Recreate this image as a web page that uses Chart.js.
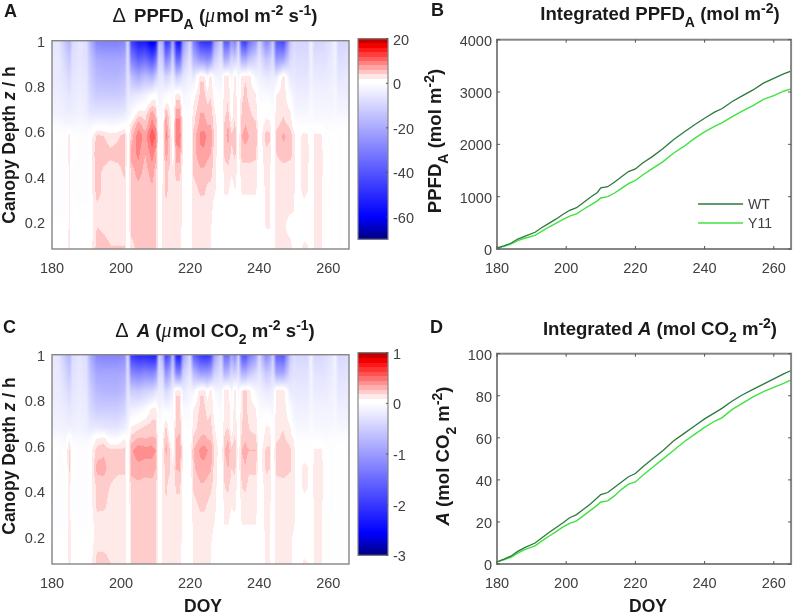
<!DOCTYPE html>
<html><head><meta charset="utf-8">
<script src="https://cdn.jsdelivr.net/npm/chart.js@4"></script>
<style>
html,body{margin:0;padding:0;background:#fff;width:797px;height:614px;overflow:hidden}
#page{position:relative;width:797px;height:614px;font-family:"Liberation Sans",Arial,sans-serif;color:#1a1a1a;filter:blur(.35px)}
canvas{position:absolute}
.t{position:absolute;white-space:nowrap;font-weight:bold;font-size:17.5px;line-height:1}
.h{font-size:18.6px}
.r{transform:translate(-50%,-50%) rotate(-90deg)}
.c{transform:translateX(-50%)}
.t sub,.t sup{font-size:14px;line-height:0;position:relative;vertical-align:baseline}
.t sub{top:7px}.t sup{top:-7px}
.n{font-weight:normal;font-size:20px;margin-right:3px}
.s{font-family:"Liberation Serif",serif;font-style:italic;font-weight:normal;font-size:20px;margin-right:1px}
</style></head><body><div id="page">
<div class="t" style="left:4px;top:2px;font-size:18px">A</div>
<div class="t" style="left:431px;top:1px;font-size:18px">B</div>
<div class="t" style="left:3px;top:318px;font-size:18px">C</div>
<div class="t" style="left:430px;top:318px;font-size:18px">D</div>
<div class="t h c" style="left:215px;top:5px"><span class="n">Δ</span> PPFD<sub>A</sub> (<span class="s">μ</span>mol m<sup>-2</sup> s<sup>-1</sup>)</div>
<div class="t h c" style="left:660px;top:5px">Integrated PPFD<sub>A</sub> (mol m<sup>-2</sup>)</div>
<div class="t h c" style="left:215px;top:320px"><span class="n">Δ</span> <i>A</i> (<span class="s">μ</span>mol CO<sub>2</sub> m<sup>-2</sup> s<sup>-1</sup>)</div>
<div class="t h c" style="left:660px;top:320px">Integrated <i>A</i> (mol CO<sub>2</sub> m<sup>-2</sup>)</div>
<div class="t r" style="left:10px;top:145px">Canopy Depth <i>z</i> / h</div>
<div class="t r" style="left:10px;top:456px">Canopy Depth <i>z</i> / h</div>
<div class="t h r" style="left:435px;top:141px">PPFD<sub>A</sub> (mol m<sup>-2</sup>)</div>
<div class="t h r" style="left:443px;top:456px"><i>A</i> (mol CO<sub>2</sub> m<sup>-2</sup>)</div>
<div class="t c" style="left:203px;top:598px">DOY</div>
<div class="t c" style="left:648px;top:598px">DOY</div>
</div>
<script>
const doyTicks=[180,200,220,240,260];
const depthTicks=[1,.8,.6,.4,.2];
const ppfdColorTicks=[20,0,-20,-40,-60];
const assimColorTicks=[1,0,-1,-2,-3];
const ppfdTicks=[0,1000,2000,3000,4000];
const assimTicks=[0,20,40,60,80,100];

const depthRows=[1,.92,.84,.76,.68,.63,.58,.5,.42,.34,.26,.18,.08];
const doyColumns=[180,181,182,184,185,186,188,190,191,193,195,197,199,201,202,203,205,207,209,210,211,212,213,214,215,216,217,218,220,221,223,224,225,226,227,229,230,231,232,233,234,235,236,237,239,240,242,243,244,245,247,249,250,251,253,254,255,256,258,259,261,262,263,266];

const deltaPPFD=[
[-6,-5,-5,-4,-3,-.5,3,3,1,0,0,1,3],
[-6,-5,-5,-4,-3,-1,0,0,-.5,-.5,-.5,0,0],
[-6,-5,-5,-4,-3,-1,-.3,-.5,-.5,-.5,-.5,0,0],
[-14,-10,-7,-5,-4,-2,0,-.5,-.5,-.5,-.5,0,0],
[-18,-13,-9,-6,-4,-2,3,3,2.5,2.5,2.5,2.5,3],
[-9,-7,-6,-5,-4,-2,0,0,-.5,-.5,0,0,0],
[-6,-6,-5,-4,-3,-1.5,-.5,-.5,-.5,-.5,-.3,0,0],
[-8,-7,-6,-5,-4,-2,-.5,-.5,-.5,-.5,-.3,0,0],
[-17,-13,-11,-9,-6,-2,.5,.5,.5,.5,.5,.5,.5],
[-29,-20,-16,-12,-6,-1,4.5,6,5,5,3.5,4,5],
[-30,-21,-17,-12,-6,-1,4,5,3.5,3.5,3,3.5,5],
[-30,-21,-17,-12,-6,-1.5,3,4.5,3,3,3,3,4.2],
[-30,-21,-17,-12,-6,-1,3.5,5,3,3,3,3,4.2],
[-28,-20,-15,-11,-5,0,5,5,4.5,3,3,3,4.2],
[-8,-7,-6,-5,-3,0,0,0,0,0,0,0,0],
[-45,-30,-15,-6,-1,3,5,7,5,5,5,5,3],
[-55,-38,-20,-5,3,7,9.5,8.5,7,5,5,5,5],
[-55,-35,-15,-3,3,4.5,7,6,5,5,5,4.5,5],
[-65,-42,-18,0,7,9,12,9,7,5.5,5,5,6],
[-60,-35,-12,1,5,7,10,7,5,5,5,5,5],
[-15,-10,-6,-3,-1,0,0,0,0,0,0,0,0],
[-20,-12,-6,-2,-1,0,1,1,1,2.5,2.5,2.5,2.5],
[-50,-30,-10,-1,6,8,9,7,5,5,3,3,3],
[-45,-25,-8,0,3,3.5,5,5,3.5,3,3,3,3],
[-20,-10,-4,-1,-.5,0,0,.5,2.5,2.5,2.5,2.5,2.5],
[-55,-35,-12,3,7,9,9,7,5,3,3,3,3],
[-60,-35,-10,3,7,9,10,7,5,3,3,3,3],
[-25,-15,-6,-2,0,1,1,1,1,1,1,1,0],
[-10,-6,-3,-1,-.5,0,0,0,0,0,0,0,0],
[-30,-18,-5,1,3,3.5,5,5,4.5,3,3,3,3],
[-48,-25,3.8,4.5,6,7,8.5,7.5,5.5,4.5,3,3,3],
[-50,-26,3.8,4.5,6,7,9,7.5,5.5,4.5,3,3,3],
[-50,-28,-1,3,5,6,7.5,6.5,5,3.5,3,3,3],
[-50,-25,3.8,3.8,5,6,7.5,6,5,3,3,2.2,2.2],
[-25,-12,-2,1,2.5,3,3.5,3,2.5,2.5,1,.5,0],
[-10,-6,-3,-1,-.5,0,0,0,0,0,0,0,0],
[-40,-20,3.5,3.5,3.5,4.5,5,4.5,3,2.5,.5,0,0],
[-40,-18,3.8,3.8,4.5,6,7,5,3.5,2.5,.5,0,0],
[-25,-10,-2,0,.5,2.5,4.5,3.5,2.5,.5,.5,0,0],
[-30,-12,3.8,3.8,3.8,4.5,5,4.5,3,2.2,.5,0,0],
[-12,-6,-2,-.5,0,0,.5,1,1,0,0,0,0],
[-45,-20,3.5,3.5,4.5,5,6,5,3,2.5,.5,0,0],
[-48,-20,3.8,4.5,5,6,7,5,3,2.5,.5,0,0],
[-35,-15,3.5,3.5,4.5,5,6,5,3,2.5,.5,0,0],
[-25,-10,-2,2.5,3,4.5,6,4.5,3,2.5,.5,0,0],
[-10,-6,-3,-1,0,0,0,0,0,0,0,0,0],
[-30,-14,-5,-1,1,3,5,3.5,3,2.5,2.5,2.2,0],
[-25,-12,-5,-1.5,1,2.5,4.5,3,2.5,2.5,2.2,2.2,0],
[-12,-8,-4,-2,-.5,0,0,0,0,0,0,0,0],
[-40,-25,-4,2,3,3.5,4.5,4,3,3,3,3,3],
[-45,-22,3.8,3.8,3.8,4.5,6.5,5,3,3,2.5,2.5,2.5],
[-14,-9,-5,-1,2.5,3.5,5,4.5,3,3,2.5,1,3],
[-9,-7,-5,-3,-1,.5,3,3.5,3,2.5,2.2,1,1],
[-10,-8,-6,-4,-2,0,.5,.5,.5,.5,0,0,0],
[-10,-8,-6,-4,-2,-.5,3,3,3,3,1,0,3],
[-10,-8,-6,-4,-2,-.5,2.5,3,2.5,2.2,0,0,2.5],
[-3,-3,-3,-2,-1,-.5,0,0,0,0,0,0,0],
[-10,-7,-5,-3,-2,-.5,2.5,2.5,2.5,2.5,2.5,2.5,2.5],
[-10,-7,-5,-3,-2,-.5,2.5,3,3,2.5,2.5,2.5,3],
[-9,-7,-5,-3,-2,-1,0,.2,.2,0,0,0,0],
[-6,-5,-4,-3,-2,-.5,-.3,-.3,-.3,-.3,-.2,-.2,-.2],
[-3,-3,-3,-2,-1.5,-.5,0,0,0,0,0,0,0],
[-10,-8,-6,-4,-2,-.5,-.2,-.2,-.2,-.2,-.2,-.2,-.2],
[-9,-7,-5,-4,-2,-.5,0,0,0,0,0,0,0]
];

const deltaAssim=[
[-.25,-.22,-.2,-.17,-.12,-.03,.13,.13,.13,.1,.1,.1,.13],
[-.25,-.22,-.2,-.17,-.12,-.04,0,0,-.02,-.02,-.02,0,0],
[-.25,-.22,-.2,-.17,-.12,-.04,-.02,-.02,-.02,-.02,-.02,0,0],
[-.6,-.42,-.3,-.2,-.15,-.08,0,-.02,-.02,-.02,-.02,0,0],
[-.75,-.55,-.38,-.25,-.16,.1,.2,.2,.14,.14,.14,.14,.16],
[-.35,-.3,-.25,-.2,-.15,-.06,0,0,-.02,-.02,0,0,0],
[-.25,-.24,-.2,-.17,-.13,-.06,-.02,-.02,-.02,-.02,-.02,0,0],
[-.35,-.3,-.25,-.2,-.16,-.08,-.02,-.02,-.02,-.02,-.02,0,0],
[-.8,-.6,-.48,-.38,-.22,-.05,.03,.03,.03,.03,.03,.03,.03],
[-1.2,-.9,-.7,-.5,-.22,.1,.22,.3,.2,.2,.14,.14,.22],
[-1.25,-.9,-.75,-.5,-.24,.13,.25,.3,.22,.2,.13,.14,.22],
[-1.25,-.9,-.75,-.5,-.26,-.02,.2,.22,.17,.14,.13,.13,.18],
[-1.25,-.9,-.75,-.5,-.26,-.02,.2,.2,.14,.13,.13,.13,.16],
[-1.15,-.85,-.65,-.42,-.18,.1,.2,.2,.14,.14,.13,.13,.16],
[-.35,-.3,-.25,-.2,-.1,0,0,0,0,0,0,0,0],
[-2,-1.2,-.5,-.15,.1,.22,.34,.3,.22,.2,.2,.2,.18],
[-2.2,-1.3,-.55,-.1,.15,.28,.42,.32,.24,.22,.2,.2,.2],
[-2.2,-1.2,-.45,-.03,.2,.27,.4,.3,.23,.2,.2,.2,.2],
[-2.3,-1.25,-.4,.12,.22,.28,.4,.3,.24,.2,.2,.2,.22],
[-2.3,-1.1,-.3,.15,.2,.27,.36,.27,.22,.2,.2,.2,.2],
[-.5,-.35,-.2,-.1,-.03,0,0,0,0,0,0,0,0],
[-.8,-.4,-.2,-.05,.02,.05,.1,.1,.11,.12,.12,.12,.12],
[-2,-1.1,-.4,-.05,.2,.28,.3,.22,.2,.17,.14,.14,.14],
[-1.7,-.9,-.3,-.05,.03,.1,.2,.2,.14,.14,.14,.14,.13],
[-.7,-.4,-.15,-.05,-.02,0,.02,.1,.11,.11,.11,.11,.11],
[-2.2,-1.2,.17,.2,.24,.27,.3,.27,.2,.14,.14,.14,.14],
[-2.4,-1.25,.17,.2,.25,.28,.36,.28,.2,.14,.14,.14,.13],
[-1,-.5,-.2,-.05,0,.03,.04,.04,.04,.04,.04,.04,0],
[-.4,-.25,-.1,-.04,-.02,0,0,0,0,0,0,0,0],
[-1.6,-.7,-.1,.1,.14,.2,.27,.25,.2,.14,.13,.13,.13],
[-2,-1,.17,.2,.22,.28,.38,.32,.25,.2,.14,.14,.13],
[-2.1,-1,.17,.2,.22,.3,.4,.32,.25,.2,.14,.14,.13],
[-2.1,-1,.02,.15,.2,.27,.36,.3,.23,.17,.14,.13,.13],
[-1.9,-.9,.17,.17,.2,.25,.34,.28,.2,.14,.13,.1,.1],
[-1,-.5,-.05,.05,.1,.13,.18,.14,.13,.12,.09,.04,0],
[-.45,-.3,-.12,-.05,-.02,0,0,0,0,0,0,0,0],
[-1.5,-.75,.15,.15,.15,.2,.27,.22,.18,.12,.1,0,0],
[-1.5,-.7,.17,.17,.18,.27,.32,.27,.2,.14,.1,0,0],
[-.9,-.4,-.08,0,.03,.11,.2,.18,.13,.1,.04,0,0],
[-1.2,-.5,.16,.16,.16,.2,.26,.2,.14,.12,.05,0,0],
[-.5,-.3,-.08,-.02,0,0,.03,.03,.03,0,0,0,0],
[-1.7,-.8,.16,.16,.18,.22,.27,.24,.18,.13,.1,0,0],
[-1.8,-.8,.2,.2,.22,.26,.3,.26,.2,.13,.1,0,0],
[-1.4,-.6,.15,.15,.18,.2,.27,.2,.14,.13,.1,0,0],
[-1,-.4,-.08,.1,.14,.2,.27,.2,.14,.13,.1,0,0],
[-.4,-.25,-.12,-.04,0,0,0,0,0,0,0,0,0],
[-1.2,-.55,-.2,-.05,.1,.13,.2,.2,.13,.12,.12,.11,.11],
[-1,-.5,-.2,-.06,.1,.14,.2,.18,.13,.12,.12,.11,.11],
[-.5,-.3,-.15,-.08,-.02,0,0,0,0,0,0,0,0],
[-1.6,-.9,.15,.15,.15,.16,.22,.2,.14,.13,.13,.13,.13],
[-1.7,-.9,.17,.17,.17,.2,.26,.22,.14,.13,.13,.13,.13],
[-.55,-.35,-.2,-.03,.1,.13,.2,.19,.13,.13,.13,.12,.12],
[-.35,-.3,-.2,-.12,-.05,.09,.13,.14,.13,.13,.12,.05,.05],
[-.4,-.3,-.22,-.15,-.08,-.02,0,0,0,0,0,0,0],
[-.4,-.3,-.22,-.15,-.08,-.02,0,.13,.13,.02,0,0,.12],
[-.4,-.3,-.22,-.15,-.08,-.02,0,.1,.1,0,0,0,.1],
[-.12,-.1,-.1,-.08,-.04,-.02,0,0,0,0,0,0,0],
[-.4,-.28,-.2,-.12,-.08,-.02,.1,.13,.13,.12,.12,.12,.12],
[-.4,-.28,-.2,-.12,-.08,-.02,.11,.14,.13,.13,.12,.12,.13],
[-.35,-.28,-.2,-.12,-.08,-.04,0,.02,.02,0,0,0,0],
[-.25,-.2,-.16,-.12,-.08,-.02,-.02,-.02,-.02,-.02,-.01,-.01,-.01],
[-.12,-.12,-.12,-.08,-.06,-.02,0,0,0,0,0,0,0],
[-.4,-.3,-.24,-.16,-.08,-.02,-.01,-.01,-.01,-.01,-.01,-.01,-.01],
[-.35,-.28,-.2,-.16,-.08,-.02,0,0,0,0,0,0,0]
];

const lineDays=[180,182,184,186,188,191,193,195,197,199,201,203,205,207,209,210,212,214,216,218,220,222,225,228,231,234,237,240,243,245,248,251,254,257,260,263,265];
const ppfdWT=[20,60,110,190,240,320,410,490,570,660,740,790,890,990,1080,1170,1190,1280,1380,1480,1530,1640,1770,1920,2090,2230,2370,2500,2620,2680,2820,2930,3040,3170,3260,3350,3400];
const ppfdY11=[15,50,95,160,205,260,340,420,490,560,630,670,760,840,920,975,1000,1070,1160,1250,1310,1410,1540,1670,1830,1960,2110,2240,2350,2410,2530,2640,2740,2860,2930,3020,3060];
const assimWT=[1,2.3,3.7,6,7.8,10,12.5,15,17.2,19.5,22,23.5,26,28.5,31.5,33,34,36.5,39,41.5,43,46,50,54,58.5,62,65.5,69,72,74,77.5,80.5,83,85.5,88,90.5,92];
const assimY11=[1,2,3.2,5.2,6.8,8.6,11,13.2,15.3,17.5,19.3,20.5,23,25.5,28,29.5,30,32.5,35.5,38,39,42,46,50,54,58,61.5,65,68,69.5,73.5,76.5,79.5,82,84,86,87.5];
const seriesNames=['WT','Y11'];
const seriesColors=['#2b7a3e','#3fe23f'];

const FRAME='#858585',TICKTXT='#404040',TFONT={family:'"Liberation Sans",Arial,sans-serif',size:14.5};
const page=document.getElementById('page');

function palette(min,blueAt,redAt,max){
  const step=(max-min)/45;
  return v=>{
    if(v>=step){
      const q=(Math.floor(v/step)-.3)*step;
      if(q<=redAt){const c=255*(1-q/redAt);return [255,c,c];}
      return [255-127*Math.min(1,(q-redAt)/(max-redAt)),0,0];
    }
    if(v>=0) return [255,255,255];
    if(v>=blueAt){const c=255*(1-v/blueAt);return [c,c,255];}
    return [0,0,255-127*Math.min(1,(v-blueAt)/(min-blueAt))];
  };
}
const ppfdPal=palette(-70,-60,15,20), assimPal=palette(-3,-2.57,.75,1);

function place(a,ml,mr,mt,mb){
  const c=document.createElement('canvas');
  const w=ml+(a.r-a.l)+mr,h=mt+(a.b-a.t)+mb;
  c.width=w;c.height=h;c.style.left=(a.l-ml)+'px';c.style.top=(a.t-mt)+'px';
  c.style.width=w+'px';c.style.height=h+'px';
  page.appendChild(c);return c;
}
const framePlugin=(ticksIn)=>({id:'frame',afterDatasetsDraw(ch){
  const {ctx,chartArea:A,scales}=ch;ctx.save();
  ctx.strokeStyle=FRAME;ctx.lineWidth=ticksIn.lw;
  ctx.strokeRect(A.left,A.top,A.right-A.left,A.bottom-A.top);
  ctx.lineWidth=1;ctx.strokeStyle='#555';ctx.beginPath();
  if(scales.x&&ticksIn.x) scales.x.ticks.forEach(t=>{const p=scales.x.getPixelForValue(t.value);
    ctx.moveTo(p,A.bottom);ctx.lineTo(p,A.bottom-3);ctx.moveTo(p,A.top);ctx.lineTo(p,A.top+3);});
  if(ticksIn.y) scales.y.ticks.forEach(t=>{const p=scales.y.getPixelForValue(t.value);
    ctx.moveTo(A.left,p);ctx.lineTo(A.left+3,p);ctx.moveTo(A.right,p);ctx.lineTo(A.right-3,p);});
  if(ticksIn.bar) scales.y.ticks.forEach(t=>{const p=scales.y.getPixelForValue(t.value);
    ctx.moveTo(A.right,p);ctx.lineTo(A.right-2,p);});
  ctx.stroke();ctx.restore();
}});
function axes(ml,mb,xMax,xT,yMin,yMax,yT,yOff,yPad){
  return {
    x:{type:'linear',min:180,max:xMax,grid:{display:false,drawTicks:false},border:{display:false},
       afterBuildTicks:s=>{s.ticks=xT.map(value=>({value}));},
       afterFit:s=>{s.height=mb;},
       ticks:{color:TICKTXT,font:TFONT,padding:11,maxRotation:0,autoSkip:false,callback:v=>String(v)}},
    y:{type:'linear',min:yMin,max:yMax,grid:{display:false,drawTicks:false},border:{display:false},
       afterBuildTicks:s=>{s.ticks=yT.map(value=>({value}));},
       afterFit:s=>{s.width=ml;},
       ticks:{color:TICKTXT,font:TFONT,padding:yPad,labelOffset:yOff,autoSkip:false,callback:v=>String(v)}}
  };
}
function heatChart(a,values,pal){
  const data=doyColumns.flatMap((d,i)=>depthRows.map((z,j)=>({x:d,y:z,v:values[i][j]})));
  const heat={id:'heat',beforeDatasetsDraw(ch){
    const {ctx,chartArea:A,scales:{x,y}}=ch,P=4;
    const w=Math.round(A.right-A.left)+2*P,h=Math.round(A.bottom-A.top)+2*P;
    const off=document.createElement('canvas');off.width=w;off.height=h;
    const oc=off.getContext('2d'),img=oc.createImageData(w,h);
    for(let py=0;py<h;py++){
      const z=Math.min(1,Math.max(.08,y.getValueForPixel(A.top-P+py+.5)));
      let j=0;while(j<depthRows.length-2&&z<depthRows[j+1])j++;
      const tz=(depthRows[j]-z)/(depthRows[j]-depthRows[j+1]);
      for(let px=0;px<w;px++){
        const d=Math.min(266,Math.max(180,x.getValueForPixel(A.left-P+px+.5)));
        let i=0;while(i<doyColumns.length-2&&d>doyColumns[i+1])i++;
        const td=(d-doyColumns[i])/(doyColumns[i+1]-doyColumns[i]);
        const v=(1-td)*((1-tz)*values[i][j]+tz*values[i][j+1])+td*((1-tz)*values[i+1][j]+tz*values[i+1][j+1]);
        const c=pal(v),k=4*(py*w+px);
        img.data[k]=c[0];img.data[k+1]=c[1];img.data[k+2]=c[2];img.data[k+3]=255;
      }
    }
    oc.putImageData(img,0,0);
    ctx.save();ctx.beginPath();ctx.rect(A.left,A.top,A.right-A.left,A.bottom-A.top);ctx.clip();
    ctx.filter='blur(0.5px)';ctx.drawImage(off,A.left-P,A.top-P);ctx.restore();
  }};
  new Chart(place(a,a.l,4,12,34),{type:'scatter',
    data:{datasets:[{label:'delta',data,pointRadius:0,showLine:false}]},
    options:{responsive:false,animation:false,events:[],layout:{padding:{top:12,right:4}},
      plugins:{legend:{display:false},tooltip:{enabled:false}},
      scales:axes(a.l,34,266,doyTicks,.08,1,depthTicks,2,7)},
    plugins:[heat,framePlugin({lw:1.4,x:false,y:false})]});
}
function colorBar(a,min,max,ticks,pal){
  const bar={id:'bar',beforeDatasetsDraw(ch){
    const {ctx,chartArea:A,scales:{y}}=ch;
    for(let p=Math.floor(A.top);p<A.bottom;p++){
      const c=pal(y.getValueForPixel(p+.5));
      ctx.fillStyle=`rgb(${c[0]|0},${c[1]|0},${c[2]|0})`;ctx.fillRect(A.left,p,A.right-A.left,1);
    }
  }};
  new Chart(place(a,1,30,12,4),{type:'scatter',
    data:{datasets:[{label:'scale',data:ticks.map(v=>({x:0,y:v})),pointRadius:0}]},
    options:{responsive:false,animation:false,events:[],layout:{padding:{top:12,bottom:4,left:1}},
      plugins:{legend:{display:false},tooltip:{enabled:false}},
      scales:{x:{display:false,min:0,max:1},
        y:{position:'right',min,max,grid:{display:false,drawTicks:false},border:{display:false},
          afterBuildTicks:s=>{s.ticks=ticks.map(value=>({value}));},
          afterFit:s=>{s.width=30;},
          ticks:{color:TICKTXT,font:TFONT,padding:5,labelOffset:2,autoSkip:false,callback:v=>String(v)}}}},
    plugins:[bar,framePlugin({lw:1.2,x:false,y:false,bar:true})]});
}
function lineChart(a,wt,y11,yMax,yT,legend){
  const pts=s=>lineDays.map((d,i)=>({x:d,y:s[i]}));
  const lg={id:'lg',afterDatasetsDraw(ch){
    if(!legend)return;
    const {ctx,chartArea:A}=ch;ctx.save();
    ch.data.datasets.forEach((ds,i)=>{
      const yy=A.bottom-45+i*19;
      ctx.strokeStyle=ds.borderColor;ctx.lineWidth=1.4;ctx.beginPath();ctx.moveTo(A.right-93,yy);ctx.lineTo(A.right-48,yy);ctx.stroke();
      ctx.fillStyle=TICKTXT;ctx.font='14px "Liberation Sans",Arial,sans-serif';ctx.textBaseline='middle';ctx.fillText(ds.label,A.right-43,yy+1);
    });ctx.restore();
  }};
  new Chart(place(a,50,2,12,34),{type:'scatter',
    data:{datasets:[
      {label:seriesNames[0],data:pts(wt),showLine:true,borderColor:seriesColors[0],borderWidth:1.3,pointRadius:0,tension:0},
      {label:seriesNames[1],data:pts(y11),showLine:true,borderColor:seriesColors[1],borderWidth:1.4,pointRadius:0,tension:0}]},
    options:{responsive:false,animation:false,events:[],layout:{padding:{top:12,right:2}},
      plugins:{legend:{display:false},tooltip:{enabled:false}},
      scales:axes(50,34,265,doyTicks,0,yMax,yT,2,5)},
    plugins:[framePlugin({lw:2,x:true,y:true}),lg]});
}
heatChart({l:52,t:37,r:349,b:249},deltaPPFD,ppfdPal);
colorBar({l:358,t:37,r:388,b:249},-70,20,ppfdColorTicks,ppfdPal);
lineChart({l:497,t:38,r:795,b:249},ppfdWT,ppfdY11,4000,ppfdTicks,true);
heatChart({l:52,t:351,r:349,b:564},deltaAssim,assimPal);
colorBar({l:358,t:351,r:388,b:565},-3,1,assimColorTicks,assimPal);
lineChart({l:497,t:352,r:795,b:564},assimWT,assimY11,100,assimTicks,false);
</script></body></html>
